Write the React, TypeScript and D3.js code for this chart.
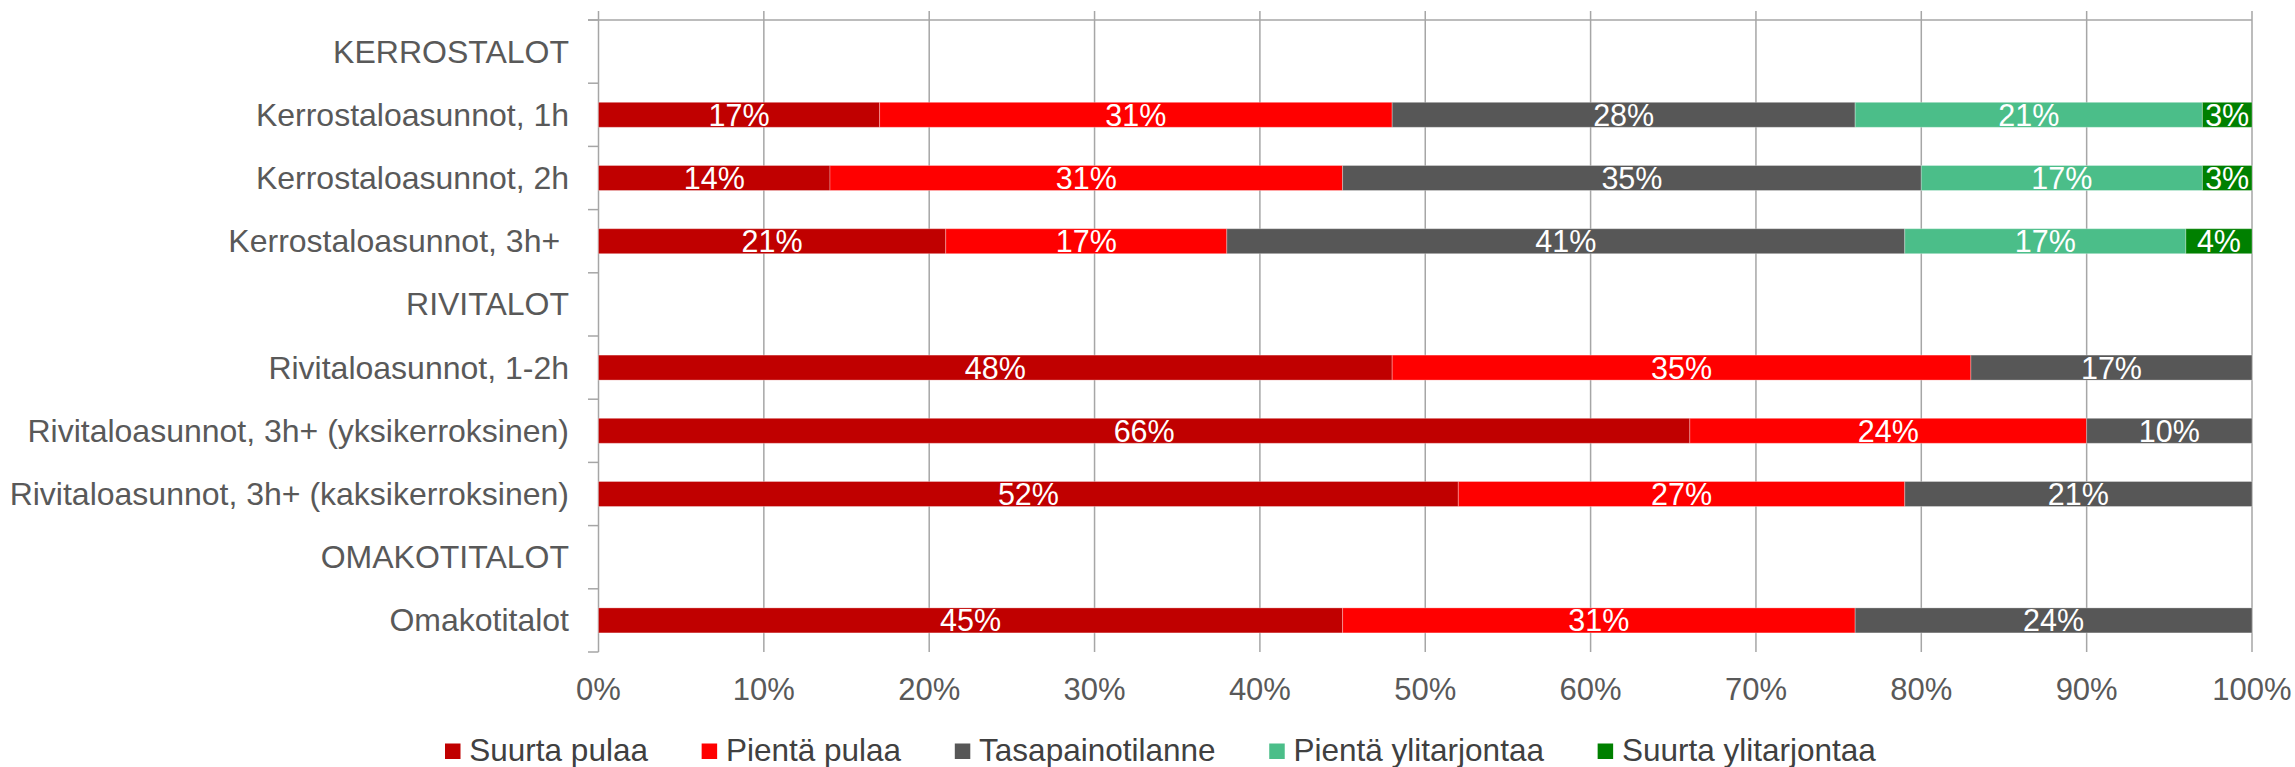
import React, { useEffect, useRef } from "react";
import * as d3 from "d3";

const categories = [
  "KERROSTALOT",
  "Kerrostaloasunnot, 1h",
  "Kerrostaloasunnot, 2h",
  "Kerrostaloasunnot, 3h+ ",
  "RIVITALOT",
  "Rivitaloasunnot, 1-2h",
  "Rivitaloasunnot, 3h+ (yksikerroksinen)",
  "Rivitaloasunnot, 3h+ (kaksikerroksinen)",
  "OMAKOTITALOT",
  "Omakotitalot",
];

const seriesNames = [
  "Suurta pulaa",
  "Pientä pulaa",
  "Tasapainotilanne",
  "Pientä ylitarjontaa",
  "Suurta ylitarjontaa",
];

const seriesColors = ["#C00000", "#FF0000", "#575757", "#4BBE89", "#008000"];

// values per category (percent), null for header rows
const suurtaPulaa = [null, 17, 14, 21, null, 48, 66, 52, null, 45];
const pientaPulaa = [null, 31, 31, 17, null, 35, 24, 27, null, 31];
const tasapaino = [null, 28, 35, 41, null, 17, 10, 21, null, 24];
const pientaYli = [null, 21, 17, 17, null, 0, 0, 0, null, 0];
const suurtaYli = [null, 3, 3, 4, null, 0, 0, 0, null, 0];

const xTicks = [0, 10, 20, 30, 40, 50, 60, 70, 80, 90, 100];

const W = 2295;
const H = 767;

export default function App() {
  const ref = useRef<SVGSVGElement | null>(null);

  useEffect(() => {
    const svg = d3.select(ref.current);
    svg.selectAll("*").remove();

    const x = d3.scaleLinear().domain([0, 100]).range([598.5, 2252]);
    const p = 1 - 25 / 63.2;
    const y = d3
      .scaleBand<string>()
      .domain(categories)
      .range([20, 652])
      .paddingInner(p)
      .paddingOuter(p / 2);
    const step = y.step();
    const gridColor = "#A6A6A6";
    const font = "'Liberation Sans', Arial, sans-serif";

    // vertical gridlines
    svg
      .append("g")
      .selectAll("line")
      .data(xTicks)
      .join("line")
      .attr("x1", (d) => x(d))
      .attr("x2", (d) => x(d))
      .attr("y1", 11)
      .attr("y2", 652)
      .attr("stroke", gridColor)
      .attr("stroke-width", 1.5);

    // top line
    svg
      .append("line")
      .attr("x1", 588)
      .attr("x2", x(100))
      .attr("y1", 20)
      .attr("y2", 20)
      .attr("stroke", gridColor)
      .attr("stroke-width", 1.5);

    // category ticks
    const tickYs = d3.range(categories.length + 1).map((i) => 20 + i * step);
    svg
      .append("g")
      .selectAll("line")
      .data(tickYs)
      .join("line")
      .attr("x1", 588)
      .attr("x2", x(0))
      .attr("y1", (d) => d)
      .attr("y2", (d) => d)
      .attr("stroke", gridColor)
      .attr("stroke-width", 1.5);

    // stacked bars
    const seriesData = [suurtaPulaa, pientaPulaa, tasapaino, pientaYli, suurtaYli];
    const rows = categories.map((c, i) => {
      const o: any = { cat: c };
      seriesNames.forEach((s, k) => (o[s] = seriesData[k][i] ?? 0));
      o.header = seriesData[0][i] === null;
      return o;
    });
    const stack = d3.stack<any>().keys(seriesNames)(rows);

    const gBars = svg.append("g");
    stack.forEach((layer, k) => {
      layer.forEach((seg: any) => {
        const row = seg.data;
        const v = seg[1] - seg[0];
        if (row.header || v <= 0) return;
        const yy = y(row.cat)!;
        gBars
          .append("rect")
          .attr("x", x(seg[0]))
          .attr("y", yy)
          .attr("width", x(seg[1]) - x(seg[0]))
          .attr("height", y.bandwidth())
          .attr("fill", seriesColors[k])
          .attr("stroke", "rgba(255,255,255,0.3)")
          .attr("stroke-width", 1);
      });
    });
    stack.forEach((layer, k) => {
      layer.forEach((seg: any) => {
        const row = seg.data;
        const v = seg[1] - seg[0];
        if (row.header || v <= 0) return;
        const cy = y(row.cat)! + y.bandwidth() / 2;
        gBars
          .append("text")
          .attr("x", (x(seg[0]) + x(seg[1])) / 2)
          .attr("y", cy + 11)
          .attr("text-anchor", "middle")
          .attr("font-family", font)
          .attr("font-size", 30.5)
          .attr("fill", "#FFFFFF")
          .text(`${v}%`);
      });
    });

    // category labels
    svg
      .append("g")
      .selectAll("text")
      .data(categories)
      .join("text")
      .attr("x", 569)
      .attr("y", (d) => y(d)! + y.bandwidth() / 2 + 11)
      .attr("text-anchor", "end")
      .attr("font-family", font)
      .attr("font-size", 32)
      .attr("fill", "#595959")
      .style("white-space", "pre")
      .text((d) => d);

    // x tick labels
    svg
      .append("g")
      .selectAll("text")
      .data(xTicks)
      .join("text")
      .attr("x", (d) => x(d))
      .attr("y", 700)
      .attr("text-anchor", "middle")
      .attr("font-family", font)
      .attr("font-size", 31)
      .attr("fill", "#595959")
      .text((d) => `${d}%`);

    // legend
    const lg = svg.append("g");
    let cx = 445;
    seriesNames.forEach((s, k) => {
      lg.append("rect")
        .attr("x", cx)
        .attr("y", 743.5)
        .attr("width", 15.5)
        .attr("height", 15.5)
        .attr("fill", seriesColors[k]);
      const t = lg
        .append("text")
        .attr("x", cx + 24.3)
        .attr("y", 761)
        .attr("font-family", font)
        .attr("font-size", 31.5)
        .attr("fill", "#404040")
        .text(s);
      const w = (t.node() as SVGTextElement).getComputedTextLength();
      cx = cx + 24.3 + w + 53.7;
    });
  }, []);

  return (
    <svg
      ref={ref}
      width={W}
      height={H}
      style={{ position: "absolute", left: 0, top: 0, background: "#fff" }}
    />
  );
}
